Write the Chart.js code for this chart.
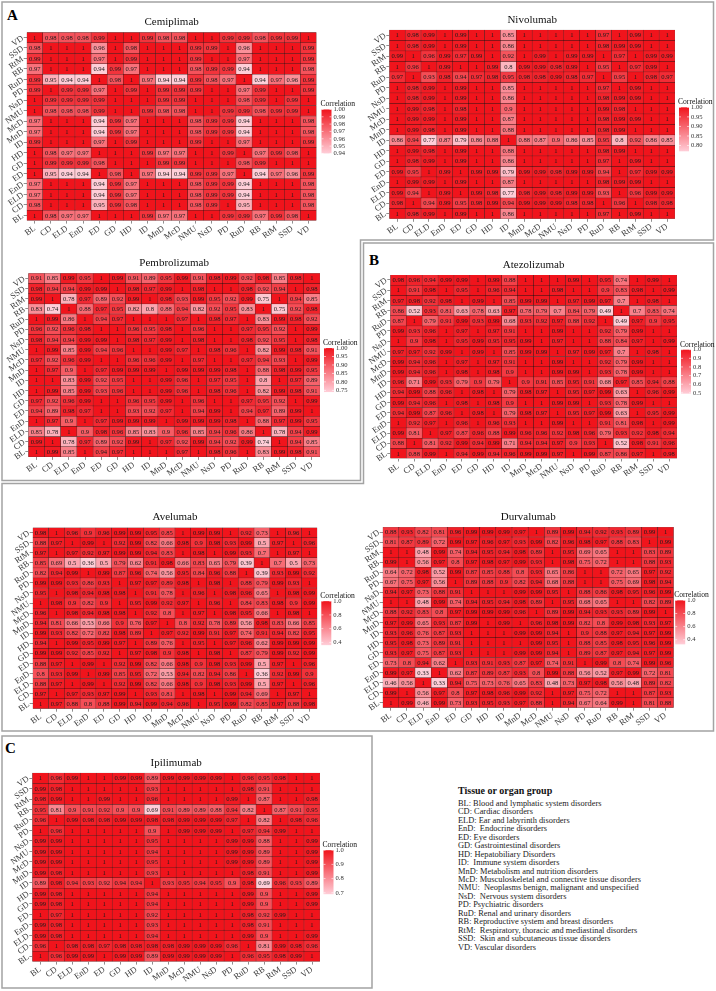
<!DOCTYPE html>
<html>
<head>
<meta charset="utf-8">
<script src="https://cdn.jsdelivr.net/npm/chart.js@4.4.1/dist/chart.umd.min.js"></script>
<style>
  body { margin: 0; background: #fff; width: 716px; height: 991px; position: relative; overflow: hidden; font-family: "Liberation Serif", serif; }
  canvas { position: absolute; }
  #frames { position: absolute; left: 0; top: 0; }
  .tag { position: absolute; font-weight: bold; font-size: 15px; line-height: 15px; color: #000; }
  #keytitle { position: absolute; left: 458px; top: 785px; font-size: 10px; line-height: 12px; font-weight: bold; color: #111; }
  #keylist { position: absolute; left: 458px; top: 799.8px; font-size: 8.4px; line-height: 8.47px; color: #222; white-space: pre; }
</style>
</head>
<body>
<svg id="frames" width="716" height="991">
  <path d="M2,2 H713.5 V240 H360.5 V480.5 H2 Z" fill="none" stroke="#a3a3a3" stroke-width="1.5"/>
  <path d="M363.5,243 H713.5 V731 H2 V483.5 H363.5 Z" fill="none" stroke="#a3a3a3" stroke-width="1.5"/>
  <path d="M2,736 H372 V988 H2 Z" fill="none" stroke="#a3a3a3" stroke-width="1.5"/>
</svg>
<div class="tag" style="left:7px;top:8px">A</div>
<div class="tag" style="left:369px;top:253px">B</div>
<div class="tag" style="left:5px;top:741px">C</div>
<div id="keytitle">Tissue or organ group</div>
<div id="keylist"></div>

<canvas id="cemi" width="360" height="239" style="left:0px;top:4px"></canvas>
<canvas id="nivo" width="354" height="237" style="left:362px;top:4px"></canvas>
<canvas id="pembro" width="362" height="229" style="left:0px;top:250px"></canvas>
<canvas id="atezo" width="352" height="231" style="left:364px;top:250px"></canvas>
<canvas id="avelu" width="362" height="241" style="left:0px;top:490px"></canvas>
<canvas id="durva" width="354" height="240" style="left:362px;top:490px"></canvas>
<canvas id="ipili" width="372" height="244" style="left:0px;top:740px"></canvas>

<script>
// categories, left to right on x, bottom to top on y
const groups = ['BL', 'CD', 'ELD', 'EnD', 'ED', 'GD', 'HD', 'ID', 'MnD', 'McD', 'NMU', 'NsD', 'PD', 'RuD', 'RB', 'RtM', 'SSD', 'VD'];

const groupNames = [
  'BL: Blood and lymphatic system disorders',
  'CD: Cardiac disorders',
  'ELD: Ear and labyrinth disorders',
  'EnD:  Endocrine disorders',
  'ED: Eye disorders',
  'GD: Gastrointestinal disorders',
  'HD: Hepatobiliary Disorders',
  'ID:  Immune system disorders',
  'MnD: Metabolism and nutrition disorders',
  'McD: Musculoskeletal and connective tissue disorders',
  'NMU:  Neoplasms benign, malignant and unspecified',
  'NsD:  Nervous system disorders',
  'PD: Psychiatric disorders',
  'RuD: Renal and urinary disorders',
  'RB: Reproductive system and breast disorders',
  'RtM:  Respiratory, thoracic and mediastinal disorders',
  'SSD:  Skin and subcutaneous tissue disorders',
  'VD: Vascular disorders',
];

// rows from top (VD) to bottom (BL), columns BL..VD
const cemiplimab = [
  [1,0.98,0.98,0.98,0.99,1,1,0.99,0.98,0.98,1,1,0.99,0.99,0.98,0.99,0.99,1],
  [0.98,1,1,1,0.96,1,0.98,1,1,1,0.99,0.99,1,0.96,1,1,1,0.99],
  [0.99,1,1,1,0.97,1,0.99,1,1,1,0.99,1,1,0.97,1,1,1,0.99],
  [0.97,1,1,1,0.94,0.99,0.97,1,1,1,0.98,0.99,0.99,0.94,1,1,1,0.98],
  [0.99,0.95,0.94,0.94,1,0.98,1,0.97,0.94,0.94,0.99,0.98,0.97,1,0.94,0.97,0.96,0.99],
  [0.99,1,0.99,0.99,0.97,1,0.99,1,0.99,0.99,0.99,1,1,0.97,0.99,1,1,0.99],
  [1,0.99,0.99,0.99,0.99,1,1,1,0.99,0.99,1,1,1,0.98,0.99,1,0.99,1],
  [1,0.98,0.98,0.98,0.99,1,1,0.99,0.98,0.98,1,1,0.99,0.99,0.98,0.99,0.99,1],
  [0.97,1,1,1,0.94,0.99,0.97,1,1,1,0.98,0.99,0.99,0.94,1,1,1,0.98],
  [0.97,1,1,1,0.94,0.99,0.97,1,1,1,0.98,0.99,0.99,0.94,1,1,1,0.98],
  [0.99,1,1,1,0.97,1,0.99,1,1,1,0.99,1,1,0.97,1,1,1,0.99],
  [1,0.98,0.97,0.97,1,1,1,0.99,0.97,0.97,1,1,0.99,1,0.97,0.99,0.98,1],
  [1,0.99,0.99,0.99,0.98,1,1,1,0.99,0.99,1,1,1,0.98,0.99,1,1,1],
  [1,0.95,0.94,0.94,1,0.98,1,0.97,0.94,0.94,0.99,0.99,0.97,1,0.94,0.97,0.96,0.99],
  [0.97,1,1,1,0.94,0.99,0.97,1,1,1,0.98,0.99,0.99,0.94,1,1,1,0.98],
  [0.97,1,1,1,0.94,0.99,0.97,1,1,1,0.98,0.99,0.99,0.94,1,1,1,0.98],
  [0.98,1,1,1,0.95,0.99,0.98,1,1,1,0.98,0.99,1,0.95,1,1,1,0.98],
  [1,0.98,0.97,0.97,1,1,1,0.99,0.97,0.97,1,1,0.99,0.99,0.97,0.99,0.98,1],
];

const nivolumab = [
  [1,0.98,0.99,1,0.99,1,1,0.85,1,1,1,1,1,0.97,1,0.99,1,1],
  [1,0.98,0.99,1,0.99,1,1,0.86,1,1,1,1,1,0.98,0.99,0.99,1,1],
  [0.99,1,0.96,0.99,0.97,0.99,1,0.92,1,0.99,1,0.99,0.99,1,0.97,1,0.99,0.99],
  [1,0.96,1,0.99,1,1,0.99,0.8,0.99,0.99,0.98,0.99,1,0.95,1,0.97,0.99,1],
  [0.97,1,0.93,0.98,0.94,0.97,0.98,0.95,0.98,0.98,0.99,0.98,0.97,1,0.95,1,0.98,0.97],
  [1,0.98,0.99,1,0.99,1,1,0.85,1,1,1,1,1,0.97,1,0.99,1,1],
  [1,0.98,0.99,1,0.99,1,1,0.86,1,1,1,1,1,0.98,0.99,0.99,1,1],
  [1,0.99,0.98,1,0.98,1,1,0.9,1,1,1,1,1,0.99,0.98,1,1,1],
  [1,0.99,0.99,1,0.99,1,1,0.87,1,1,1,1,1,0.98,0.99,0.99,1,1],
  [1,0.99,0.98,1,0.99,1,1,0.88,1,1,1,1,1,0.98,0.99,1,1,1],
  [0.86,0.94,0.77,0.87,0.79,0.86,0.88,1,0.88,0.87,0.9,0.86,0.85,0.95,0.8,0.92,0.86,0.85],
  [1,0.99,0.98,1,0.99,1,1,0.88,1,1,1,1,1,0.98,0.99,1,1,1],
  [1,0.98,0.99,1,0.99,1,1,0.86,1,1,1,1,1,0.97,1,0.99,1,1],
  [0.99,0.95,1,0.99,1,0.99,0.99,0.79,0.99,0.99,0.98,0.99,0.99,0.94,1,0.97,0.99,0.99],
  [1,0.99,0.99,1,0.99,1,1,0.87,1,1,1,1,1,0.98,0.99,0.99,1,1],
  [0.99,0.94,1,0.99,1,0.99,0.98,0.77,0.98,0.99,0.98,0.99,0.99,0.93,1,0.96,0.99,0.99],
  [0.98,1,0.94,0.99,0.95,0.98,0.99,0.94,0.99,0.99,0.99,0.98,0.98,1,0.96,1,0.98,0.98],
  [1,0.98,0.99,1,0.99,1,1,0.86,1,1,1,1,1,0.97,1,0.99,1,1],
];

const pembrolizumab = [
  [0.91,0.85,0.99,0.95,1,0.99,0.91,0.89,0.95,0.99,0.91,0.98,0.99,0.92,0.98,0.85,0.98,1],
  [0.98,0.94,0.94,0.99,0.99,1,0.98,0.97,0.99,1,0.98,1,1,0.98,0.92,0.94,1,0.98],
  [0.99,1,0.78,0.97,0.89,0.92,0.99,1,0.98,0.93,0.99,0.95,0.92,0.99,0.75,1,0.94,0.85],
  [0.83,0.74,1,0.88,0.97,0.95,0.82,0.8,0.88,0.94,0.82,0.92,0.95,0.83,1,0.75,0.92,0.98],
  [1,0.99,0.86,1,0.94,0.97,1,1,1,0.97,1,0.98,0.97,1,0.83,0.99,0.98,0.92],
  [0.96,0.92,0.96,0.98,1,1,0.96,0.95,0.98,1,0.96,1,1,0.97,0.95,0.92,1,0.99],
  [0.98,0.94,0.94,0.99,0.99,1,0.98,0.97,0.99,1,0.98,1,1,0.98,0.92,0.95,1,0.98],
  [1,0.99,0.85,0.99,0.94,0.96,1,1,0.99,0.97,1,0.98,0.96,1,0.82,0.99,0.98,0.91],
  [0.97,0.92,0.96,0.99,1,1,0.96,0.96,0.99,1,0.97,1,1,0.97,0.94,0.93,1,0.99],
  [1,0.97,0.9,1,0.97,0.99,0.99,0.99,1,0.99,0.99,0.99,0.98,1,0.88,0.98,0.99,0.95],
  [1,1,0.83,0.99,0.92,0.95,1,1,0.99,0.96,1,0.97,0.95,1,0.8,1,0.97,0.89],
  [1,0.99,0.85,0.99,0.93,0.96,1,1,0.99,0.96,1,0.98,0.96,1,0.82,0.99,0.98,0.91],
  [0.97,0.92,0.96,0.99,1,1,0.96,0.95,0.99,1,0.96,1,1,0.97,0.95,0.92,1,0.99],
  [0.94,0.89,0.98,0.97,1,1,0.93,0.92,0.97,1,0.94,0.99,1,0.94,0.97,0.89,0.99,1],
  [1,0.97,0.9,1,0.97,0.99,0.99,0.99,1,0.99,0.99,0.99,0.98,1,0.88,0.97,0.99,0.95],
  [0.85,0.78,1,0.9,0.98,0.96,0.85,0.83,0.9,0.96,0.85,0.94,0.96,0.86,1,0.78,0.94,0.99],
  [0.99,1,0.78,0.97,0.89,0.92,0.99,1,0.97,0.92,0.99,0.94,0.92,0.99,0.74,1,0.94,0.85],
  [1,0.99,0.85,1,0.94,0.97,1,1,1,0.97,1,0.98,0.96,1,0.83,0.99,0.98,0.91],
];

const atezolizumab = [
  [0.98,0.96,0.94,0.99,0.99,1,0.99,0.88,1,1,1,0.99,1,0.95,0.74,1,0.99,1],
  [1,0.91,0.98,1,0.95,1,0.96,0.94,1,1,0.98,1,1,0.9,0.83,0.98,1,0.99],
  [0.97,0.98,0.92,0.98,1,0.99,1,0.85,0.99,0.99,1,0.97,0.99,0.97,0.7,1,0.98,1],
  [0.86,0.52,0.93,0.81,0.63,0.78,0.63,0.97,0.78,0.79,0.7,0.84,0.79,0.49,1,0.7,0.83,0.74],
  [0.87,1,0.79,0.91,0.99,0.93,0.99,0.68,0.93,0.92,0.97,0.88,0.92,1,0.49,0.97,0.9,0.95],
  [0.99,0.93,0.96,1,0.97,1,0.97,0.91,1,1,0.99,1,1,0.92,0.79,0.99,1,1],
  [1,0.9,0.98,1,0.95,0.99,0.95,0.95,0.99,1,0.97,1,1,0.88,0.84,0.97,1,0.99],
  [0.97,0.97,0.92,0.99,1,0.99,1,0.85,0.99,0.99,1,0.97,0.99,0.97,0.7,1,0.98,1],
  [0.99,0.94,0.96,1,0.97,1,0.97,0.91,1,1,0.99,1,1,0.92,0.79,0.99,1,1],
  [0.99,0.94,0.96,1,0.98,1,0.98,0.9,1,1,0.99,0.99,1,0.93,0.78,0.99,1,1],
  [0.96,0.71,0.99,0.93,0.79,0.9,0.79,1,0.9,0.91,0.85,0.95,0.91,0.68,0.97,0.85,0.94,0.88],
  [0.94,0.99,0.88,0.96,1,0.98,1,0.79,0.98,0.97,1,0.95,0.97,0.99,0.63,1,0.96,0.99],
  [0.99,0.94,0.96,1,0.98,1,0.98,0.9,1,1,0.99,0.99,1,0.93,0.78,0.99,1,1],
  [0.94,0.99,0.87,0.96,1,0.98,1,0.79,0.98,0.97,1,0.95,0.97,0.99,0.63,1,0.95,0.99],
  [1,0.92,0.97,1,0.96,1,0.96,0.93,1,1,0.99,1,1,0.91,0.81,0.98,1,0.99],
  [0.99,0.81,1,0.97,0.87,0.96,0.88,0.99,0.96,0.96,0.92,0.98,0.96,0.79,0.93,0.92,0.98,0.94],
  [0.88,1,0.81,0.92,0.99,0.94,0.99,0.71,0.94,0.94,0.97,0.9,0.93,1,0.52,0.98,0.91,0.96],
  [1,0.88,0.99,1,0.94,0.99,0.94,0.96,0.99,0.99,0.97,1,0.99,0.87,0.86,0.97,1,0.98],
];

const avelumab = [
  [0.98,1,0.96,0.9,0.96,0.99,0.99,0.95,0.85,1,0.99,0.99,1,0.92,0.73,1,0.96,1],
  [0.88,0.97,1,0.99,1,0.92,0.99,0.82,0.66,0.98,0.9,0.98,0.93,0.99,0.5,0.97,1,0.96],
  [0.97,1,0.97,0.92,0.97,0.99,0.99,0.94,0.83,1,0.98,1,0.99,0.93,0.7,1,0.97,1],
  [0.85,0.69,0.5,0.36,0.5,0.79,0.62,0.91,0.98,0.66,0.83,0.65,0.79,0.39,1,0.7,0.5,0.73],
  [0.82,0.94,0.99,1,0.99,0.87,0.96,0.74,0.56,0.95,0.84,0.96,0.88,1,0.39,0.93,0.99,0.92],
  [0.99,0.99,0.93,0.86,0.93,1,0.97,0.97,0.89,0.98,1,0.98,1,0.88,0.79,0.99,0.93,1],
  [0.95,1,0.98,0.94,0.98,0.98,1,0.91,0.78,1,0.96,1,0.98,0.96,0.65,1,0.98,0.99],
  [1,0.98,0.9,0.82,0.9,1,0.95,0.99,0.92,0.97,1,0.96,1,0.84,0.83,0.98,0.9,0.99],
  [0.96,1,0.98,0.94,0.98,0.98,1,0.92,0.8,1,0.97,1,0.98,0.95,0.66,1,0.98,1],
  [0.94,0.81,0.66,0.53,0.66,0.9,0.76,0.97,1,0.8,0.92,0.78,0.89,0.56,0.98,0.83,0.66,0.85],
  [0.99,0.93,0.82,0.72,0.82,0.98,0.89,1,0.97,0.92,0.99,0.91,0.97,0.74,0.91,0.94,0.82,0.95],
  [0.94,1,0.99,0.95,0.99,0.97,1,0.89,0.76,1,0.95,1,0.97,0.96,0.62,0.99,0.99,0.99],
  [0.99,0.99,0.92,0.85,0.92,1,0.97,0.98,0.9,0.98,1,0.98,1,0.87,0.79,0.99,0.92,0.99],
  [0.88,0.97,1,0.99,1,0.92,0.99,0.82,0.66,0.98,0.9,0.98,0.93,0.99,0.5,0.97,1,0.96],
  [0.8,0.93,0.99,1,0.99,0.85,0.95,0.72,0.53,0.94,0.82,0.94,0.86,1,0.36,0.92,0.99,0.9],
  [0.88,0.97,1,0.99,1,0.92,0.99,0.82,0.66,0.98,0.9,0.98,0.93,0.99,0.5,0.97,1,0.96],
  [0.97,1,0.97,0.93,0.97,0.99,1,0.93,0.81,1,0.98,1,0.99,0.94,0.69,1,0.97,1],
  [1,0.97,0.88,0.8,0.88,0.99,0.94,0.99,0.94,0.96,1,0.95,0.99,0.82,0.85,0.97,0.88,0.98],
];

const durvalumab = [
  [0.88,0.93,0.82,0.81,0.96,0.99,0.99,0.99,0.97,1,0.89,0.99,0.94,0.92,0.93,0.89,0.99,1],
  [0.81,0.87,0.89,0.72,0.99,0.97,0.96,0.97,0.93,0.99,0.82,0.96,0.98,0.97,0.88,0.83,1,0.99],
  [1,1,0.48,0.99,0.74,0.94,0.95,0.94,0.98,0.89,1,0.95,0.69,0.65,1,1,0.83,0.89],
  [0.99,1,0.56,0.97,0.8,0.97,0.98,0.97,0.99,0.93,1,0.98,0.75,0.72,1,1,0.88,0.93],
  [0.64,0.72,0.98,0.52,0.99,0.87,0.85,0.88,0.8,0.93,0.65,0.86,1,1,0.72,0.65,0.97,0.92],
  [0.67,0.75,0.97,0.56,1,0.89,0.88,0.9,0.82,0.94,0.68,0.88,1,1,0.75,0.69,0.98,0.94],
  [0.94,0.97,0.73,0.88,0.91,1,1,1,0.99,0.99,0.95,1,0.88,0.86,0.98,0.95,0.96,0.99],
  [1,1,0.48,0.99,0.74,0.94,0.95,0.94,0.98,0.89,1,0.95,0.68,0.65,1,1,0.82,0.89],
  [0.88,0.92,0.83,0.8,0.97,0.99,0.99,0.99,0.96,1,0.89,0.99,0.94,0.93,0.93,0.89,0.99,1],
  [0.97,0.99,0.65,0.93,0.87,0.99,1,0.99,1,0.96,0.98,0.99,0.82,0.8,0.99,0.98,0.93,0.97],
  [0.93,0.96,0.76,0.87,0.93,1,1,1,0.99,0.99,0.94,1,0.9,0.88,0.97,0.94,0.97,0.99],
  [0.95,0.98,0.73,0.89,0.91,1,1,1,1,0.99,0.95,1,0.88,0.85,0.98,0.95,0.96,0.99],
  [0.93,0.97,0.75,0.87,0.93,1,1,1,0.99,0.99,0.94,1,0.89,0.87,0.97,0.94,0.97,0.99],
  [0.73,0.8,0.94,0.62,1,0.93,0.91,0.93,0.87,0.97,0.74,0.91,1,0.99,0.8,0.74,0.99,0.96],
  [0.99,0.97,0.33,1,0.62,0.87,0.89,0.87,0.93,0.8,0.99,0.88,0.56,0.52,0.97,0.99,0.72,0.81],
  [0.46,0.56,1,0.33,0.94,0.75,0.73,0.76,0.65,0.83,0.48,0.73,0.97,0.98,0.56,0.48,0.89,0.82],
  [0.99,1,0.56,0.97,0.8,0.97,0.98,0.96,0.99,0.92,1,0.97,0.75,0.72,1,1,0.87,0.93],
  [1,0.99,0.46,0.99,0.73,0.93,0.95,0.93,0.97,0.88,1,0.94,0.67,0.64,0.99,1,0.81,0.88],
];

const ipilimumab = [
  [1,0.96,0.99,1,1,0.99,0.99,0.89,0.99,0.99,0.99,0.99,1,0.96,0.95,0.98,1,1],
  [0.99,0.98,1,1,1,1,1,0.93,1,1,1,1,1,0.98,0.91,1,1,1],
  [0.98,0.99,1,1,0.99,1,1,0.96,1,1,1,1,0.99,1,0.87,1,1,0.98],
  [0.95,0.81,0.9,0.91,0.92,0.9,0.9,0.69,0.91,0.89,0.89,0.88,0.94,0.82,1,0.87,0.91,0.95],
  [0.96,1,0.99,0.98,0.98,0.99,0.99,0.98,0.98,0.99,0.99,0.99,0.97,1,0.82,1,0.98,0.96],
  [1,0.96,1,1,1,1,1,0.9,1,0.99,0.99,0.99,1,0.97,0.94,0.99,1,1],
  [0.99,0.99,1,1,1,1,1,0.95,1,1,1,1,0.99,0.99,0.88,1,1,0.99],
  [0.99,0.99,1,1,1,1,1,0.94,1,1,1,1,0.99,0.99,0.89,1,1,0.99],
  [0.99,0.99,1,1,1,1,1,0.95,1,1,1,1,0.99,0.99,0.89,1,1,0.99],
  [0.99,0.98,1,1,1,1,1,0.93,1,1,1,1,1,0.98,0.91,1,1,0.99],
  [0.89,0.98,0.94,0.93,0.92,0.94,0.94,1,0.93,0.95,0.94,0.95,0.9,0.98,0.69,0.96,0.93,0.89],
  [0.99,0.98,1,1,1,1,1,0.94,1,1,1,1,1,0.99,0.9,1,1,0.99],
  [0.99,0.98,1,1,1,1,1,0.94,1,1,1,1,1,0.99,0.9,1,1,0.99],
  [1,0.97,1,1,1,1,1,0.92,1,1,1,1,1,0.98,0.92,0.99,1,1],
  [0.99,0.98,1,1,1,1,1,0.93,1,1,1,1,1,0.98,0.91,1,1,1],
  [0.99,0.98,1,1,1,1,1,0.94,1,1,1,1,1,0.99,0.9,1,1,0.99],
  [0.96,1,0.98,0.98,0.97,0.98,0.98,0.98,0.98,0.99,0.99,0.99,0.96,1,0.81,0.99,0.98,0.96],
  [1,0.96,0.99,0.99,1,0.99,0.99,0.89,0.99,0.99,0.99,0.99,1,0.96,0.95,0.98,0.99,1],
];

// colour bar tick labels
const cemiKeys = ['1.00', '0.99', '0.98', '0.97', '0.96', '0.95', '0.94'];
const nivoKeys = ['1.00', '0.95', '0.90', '0.85', '0.80'];
const pembroKeys = ['1.00', '0.95', '0.90', '0.85', '0.80', '0.75'];
const atezoKeys = ['1.0', '0.9', '0.8', '0.7', '0.6', '0.5'];
const aveluKeys = ['1.0', '0.8', '0.6', '0.4'];
const durvaKeys = ['1.0', '0.8', '0.6', '0.4'];
const ipiliKeys = ['1.0', '0.9', '0.8', '0.7'];

document.getElementById('keylist').textContent = groupNames.join('\n');

const LOW = [255, 206, 216];
const HIGH = [240, 20, 28];
const FONT = '"Liberation Serif", serif';

function fill_colour(v, lo, hi) {
  let t = (v - lo) / (hi - lo);
  t = Math.max(0, Math.min(1, t));
  const c = LOW.map((l, k) => Math.round(l + (HIGH[k] - l) * t));
  return `rgb(${c[0]},${c[1]},${c[2]})`;
}

const heatPlugin = {
  id: 'heat',
  afterDatasetsDraw(chart) {
    const ctx = chart.ctx;
    ctx.save();
    ctx.font = `6.6px ${FONT}`;
    ctx.fillStyle = '#1c1c1c';
    ctx.textAlign = 'center';
    ctx.textBaseline = 'middle';
    chart.data.datasets.forEach((ds, i) => {
      chart.getDatasetMeta(i).data.forEach((bar, j) => {
        ctx.fillText(String(ds.values[j]), bar.x, (bar.y + bar.base) / 2 + 0.4);
      });
    });
    ctx.restore();
  },
  afterDraw(chart, args, opts) {
    const ctx = chart.ctx;
    const a = chart.chartArea;
    ctx.save();
    // title
    ctx.font = `11px ${FONT}`;
    ctx.fillStyle = '#111';
    ctx.textAlign = 'center';
    ctx.textBaseline = 'middle';
    ctx.fillText(opts.title, (a.left + a.right) / 2, a.top - 10);

    // colour bar
    const bx = a.right + opts.gap;
    const bh = 44, bw = 10;
    const by = (a.top + a.bottom) / 2 + 5 - bh / 2;
    const grad = ctx.createLinearGradient(0, by + bh, 0, by);
    for (let s = 0; s <= 10; s++) {
      const v = opts.min + (opts.max - opts.min) * s / 10;
      grad.addColorStop(s / 10, fill_colour(v, opts.min, opts.max));
    }
    ctx.fillStyle = grad;
    ctx.fillRect(bx, by, bw, bh);

    ctx.font = `7.6px ${FONT}`;
    ctx.fillStyle = '#111';
    ctx.textAlign = 'left';
    ctx.textBaseline = 'alphabetic';
    ctx.fillText('Correlation', bx - 1, by - 3);

    ctx.font = `6.6px ${FONT}`;
    ctx.fillStyle = '#333';
    ctx.textBaseline = 'middle';
    ctx.strokeStyle = '#fff';
    ctx.lineWidth = 0.6;
    opts.keys.forEach((k) => {
      const v = parseFloat(k);
      const y = by + (opts.max - v) / (opts.max - opts.min) * bh;
      ctx.beginPath();
      ctx.moveTo(bx, y); ctx.lineTo(bx + 2, y);
      ctx.moveTo(bx + bw - 2, y); ctx.lineTo(bx + bw, y);
      ctx.stroke();
      ctx.fillText(k, bx + bw + 2, y);
    });
    ctx.restore();
  },
};

function draw_heatmap(canvas_id, title, matrix, keys, box, grid, gap) {
  // box: canvas left, top, width, height; grid: plot area left, top, right, bottom (page px)
  const flat = matrix.flat();
  const lo = Math.min(...flat);
  const hi = Math.max(...flat);
  const n = matrix.length;

  const datasets = matrix.map((row, r) => {
    const level = n - 1 - r;
    return {
      data: row.map(() => [level, level + 1]),
      values: row,
      backgroundColor: row.map((v) => fill_colour(v, lo, hi)),
      borderColor: 'rgba(45,0,0,0.8)',
      borderWidth: 0.5,
      borderSkipped: false,
      barPercentage: 1,
      categoryPercentage: 1,
      grouped: false,
    };
  });

  new Chart(canvas_id, {
    type: 'bar',
    data: { labels: groups, datasets: datasets },
    plugins: [heatPlugin],
    options: {
      responsive: false,
      animation: false,
      events: [],
      layout: {
        padding: {
          left: 0,
          top: grid[1] - box[1],
          right: box[0] + box[2] - grid[2],
          bottom: 0,
        },
      },
      plugins: {
        legend: { display: false },
        tooltip: { enabled: false },
        heat: { title: title, keys: keys, min: lo, max: hi, gap: gap },
      },
      scales: {
        x: {
          type: 'category',
          afterFit: (s) => { s.height = box[1] + box[3] - grid[3]; },
          grid: { drawOnChartArea: false, offset: false, tickLength: 3, color: '#444', tickWidth: 0.6 },
          border: { display: false },
          ticks: {
            autoSkip: false, minRotation: 35, maxRotation: 35, padding: 0,
            color: '#3a3a3a', font: { family: FONT, size: 8.5 },
          },
        },
        y: {
          type: 'linear',
          min: 0,
          max: n,
          afterFit: (s) => { s.width = grid[0] - box[0]; },
          afterBuildTicks: (s) => { s.ticks = groups.map((g, i) => ({ value: i + 0.5 })); },
          grid: { drawOnChartArea: false, tickLength: 3, color: '#444', tickWidth: 0.6 },
          border: { display: false },
          ticks: {
            autoSkip: false, minRotation: 35, maxRotation: 35, padding: 1,
            color: '#3a3a3a', font: { family: FONT, size: 8.5 },
            callback: (v, i) => groups[i],
          },
        },
      },
    },
  });
}

draw_heatmap('cemi', 'Cemiplimab', cemiplimab, cemiKeys, [0, 4, 360, 239], [26.7, 32.3, 316.5, 220.6], 5);
draw_heatmap('nivo', 'Nivolumab', nivolumab, nivoKeys, [362, 4, 354, 237], [389.3, 29.8, 675, 218.8], 4);
draw_heatmap('pembro', 'Pembrolizumab', pembrolizumab, pembroKeys, [0, 250, 362, 229], [28.3, 273.2, 320, 456.9], 4);
draw_heatmap('atezo', 'Atezolizumab', atezolizumab, atezoKeys, [364, 250, 352, 231], [390.3, 274.9, 677, 458.5], 4);
draw_heatmap('avelu', 'Avelumab', avelumab, aveluKeys, [0, 490, 362, 241], [32.7, 527.6, 317.3, 708.7], 4);
draw_heatmap('durva', 'Durvalumab', durvalumab, durvaKeys, [362, 490, 354, 240], [382.7, 527, 673.7, 707.7], 1.5);
draw_heatmap('ipili', 'Ipilimumab', ipilimumab, ipiliKeys, [0, 740, 372, 244], [32.3, 772.8, 320, 961.6], 3.5);
</script>
</body>
</html>
